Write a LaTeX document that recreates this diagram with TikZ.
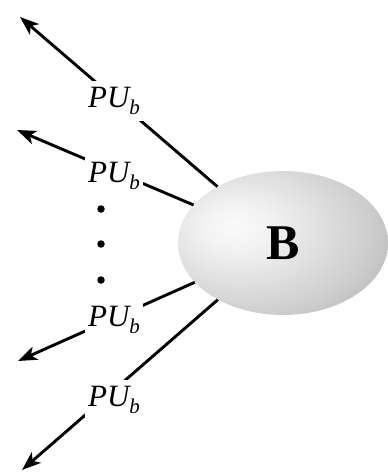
\documentclass[tikz,border=0pt]{standalone}
\usepackage{fontspec}
\setmainfont{Liberation Serif}
\usetikzlibrary{arrows.meta,shapes.geometric}
\pgfdeclareradialshading{ballshade}{\pgfpoint{-12bp}{6bp}}{color(0bp)=(white!98!black); color(8bp)=(white!95!black); color(30bp)=(white!80!black); color(55bp)=(white!55!black); color(100bp)=(white!55!black)}
\tikzset{
  conn/.style={line width=2.9pt,-{Stealth[length=19pt,width=14pt,inset=5pt]}},
  lbl/.style={fill=white,inner xsep=3pt,inner ysep=6pt,font=\fontsize{31}{31}\selectfont\itshape},
  ball/.style={ellipse,minimum width=210pt,minimum height=144pt,inner sep=0pt,shading=ballshade,font=\fontsize{50}{50}\selectfont\bfseries},
  dotnode/.style={circle,fill=black,inner sep=0pt,minimum size=7.5pt}
}
\newcommand{\pub}{PU\raisebox{-7pt}{\fontsize{21}{21}\selectfont b}}
\begin{document}
\begin{tikzpicture}[x=1pt,y=-1pt]
\useasboundingbox (0,0) rectangle (388,472);
\node[ball] (B) at (283,243) {B};
\coordinate (t1) at (20,17);
\coordinate (t2) at (17,130);
\coordinate (t3) at (18,361);
\coordinate (t4) at (22,470);
\draw[conn] (B) -- (t1);
\draw[conn] (B) -- (t2);
\draw[conn] (B) -- (t3);
\draw[conn] (B) -- (t4);
\node[lbl] (l1) at (114,101) {\pub};
\node[lbl] (l2) at (114,176) {\pub};
\node[lbl] (l3) at (114,320) {\pub};
\node[lbl] (l4) at (114,400) {\pub};
\node[dotnode] (d1) at (101,209) {};
\node[dotnode] (d2) at (101,244) {};
\node[dotnode] (d3) at (101,280) {};
\end{tikzpicture}
\end{document}
